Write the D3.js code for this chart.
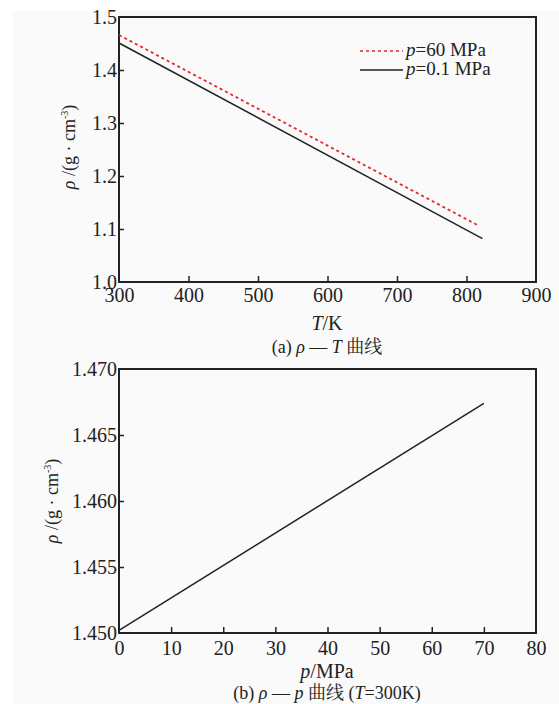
<!DOCTYPE html>
<html>
<head>
<meta charset="utf-8">
<script src="https://cdn.jsdelivr.net/npm/d3@7"></script>
<style>
  body { margin: 0; background: #fff; }
</style>
</head>
<body>
<svg id="chart" width="559" height="704"></svg>
<script>
// (a) rho - T curves
const tempHigh = [300, 815];        // p = 60 MPa
const rhoHigh = [1.466, 1.108];
const tempLow = [300, 823];         // p = 0.1 MPa
const rhoLow = [1.451, 1.082];
const tTicks = [300, 400, 500, 600, 700, 800, 900];
const rhoTTicks = [1.0, 1.1, 1.2, 1.3, 1.4, 1.5];

// (b) rho - p curve at T = 300 K
const pressure = [0, 70];
const rhoP = [1.4502, 1.4674];
const pTicks = [0, 10, 20, 30, 40, 50, 60, 70, 80];
const rhoPTicks = [1.450, 1.455, 1.460, 1.465, 1.470];

const svg = d3.select("#chart");
const ink = "#222";

// light paper background
svg.append("rect").attr("x", 13).attr("y", 11).attr("width", 546).attr("height", 693).attr("fill", "#fafafa");

const left = 119, right = 536;

function panel(top, bottom, xDomain, yDomain, xTicks, yTicks, yFmt, xPad) {
    const x = d3.scaleLinear().domain(xDomain).range([left, right]);
    const y = d3.scaleLinear().domain(yDomain).range([bottom, top]);
    const g = svg.append("g");

    const xAxis = g.append("g").attr("transform", `translate(0,${bottom})`)
        .call(d3.axisBottom(x).tickValues(xTicks).tickSizeInner(-6).tickSizeOuter(0).tickPadding(xPad).tickFormat(d3.format("d")));
    const yAxis = g.append("g").attr("transform", `translate(${left},0)`)
        .call(d3.axisLeft(y).tickValues(yTicks).tickSizeInner(-5).tickSizeOuter(0).tickPadding(2).tickFormat(yFmt));
    [xAxis, yAxis].forEach(a => {
        a.select(".domain").remove();
        a.selectAll("line").attr("stroke", ink).attr("stroke-width", 1.5);
        a.selectAll("text").attr("font-size", 20).attr("fill", ink);
    });
    xAxis.selectAll("text").attr("dy", "0.68em");
    // end ticks on the frame are hidden by the box
    xAxis.selectAll(".tick").filter(d => d === xDomain[0] || d === xDomain[1]).select("line").remove();
    yAxis.selectAll(".tick").filter(d => d === yDomain[0] || d === yDomain[1]).select("line").remove();

    g.append("rect").attr("x", left).attr("y", top).attr("width", right - left).attr("height", bottom - top)
        .attr("fill", "none").attr("stroke", ink).attr("stroke-width", 2);
    return { x, y, g };
}

function yLabel(cx, cy) {
    const t = svg.append("text").attr("transform", `translate(${cx},${cy}) rotate(-90)`)
        .attr("text-anchor", "middle").attr("font-size", 18).attr("fill", ink);
    t.append("tspan").attr("font-style", "italic").text("ρ");
    t.append("tspan").text(" /(g · cm");
    t.append("tspan").attr("font-size", 10).attr("dy", -7).text("-3");
    t.append("tspan").attr("dy", 7).text(")");
}

// ---- panel (a)
const a = panel(17, 282, [300, 900], [1.0, 1.5], tTicks, rhoTTicks, d3.format(".1f"), 6);
const lineA = (xs, ys) => d3.line().x(d => a.x(d[0])).y(d => a.y(d[1]))(xs.map((v, i) => [v, ys[i]]));
a.g.append("path").attr("d", lineA(tempHigh, rhoHigh)).attr("fill", "none")
    .attr("stroke", "#e8242b").attr("stroke-width", 1.8).attr("stroke-dasharray", "3,3");
a.g.append("path").attr("d", lineA(tempLow, rhoLow)).attr("fill", "none")
    .attr("stroke", ink).attr("stroke-width", 1.5);

// legend
const legend = [
    { label: "=60 MPa", color: "#e8242b", dash: "3,3", y: 51 },
    { label: "=0.1 MPa", color: ink, dash: null, y: 70 }
];
legend.forEach(l => {
    svg.append("line").attr("x1", 360).attr("x2", 403).attr("y1", l.y).attr("y2", l.y)
        .attr("stroke", l.color).attr("stroke-width", 1.6).attr("stroke-dasharray", l.dash);
    const t = svg.append("text").attr("x", 406).attr("y", l.y + 5).attr("font-size", 19).attr("fill", ink);
    t.append("tspan").attr("font-style", "italic").text("p");
    t.append("tspan").text(l.label);
});

yLabel(75, 147);
const tTitle = svg.append("text").attr("x", 327).attr("y", 330).attr("text-anchor", "middle").attr("font-size", 20).attr("fill", ink);
tTitle.append("tspan").attr("font-style", "italic").text("T");
tTitle.append("tspan").text("/K");
const capA = svg.append("text").attr("x", 327).attr("y", 353).attr("text-anchor", "middle").attr("font-size", 18).attr("fill", ink);
capA.append("tspan").text("(a)  ");
capA.append("tspan").attr("font-style", "italic").text("ρ");
capA.append("tspan").text(" — ");
capA.append("tspan").attr("font-style", "italic").text("T");
capA.append("tspan").text(" 曲线");

// ---- panel (b)
const b = panel(369, 633, [0, 80], [1.450, 1.470], pTicks, rhoPTicks, d3.format(".3f"), 8);
b.g.append("path")
    .attr("d", d3.line().x(d => b.x(d[0])).y(d => b.y(d[1]))(pressure.map((v, i) => [v, rhoP[i]])))
    .attr("fill", "none").attr("stroke", ink).attr("stroke-width", 1.5);

yLabel(58, 501);
const pTitle = svg.append("text").attr("x", 327).attr("y", 678).attr("text-anchor", "middle").attr("font-size", 20).attr("fill", ink);
pTitle.append("tspan").attr("font-style", "italic").text("p");
pTitle.append("tspan").text("/MPa");
const capB = svg.append("text").attr("x", 327).attr("y", 699).attr("text-anchor", "middle").attr("font-size", 18).attr("fill", ink);
capB.append("tspan").text("(b)  ");
capB.append("tspan").attr("font-style", "italic").text("ρ");
capB.append("tspan").text(" — ");
capB.append("tspan").attr("font-style", "italic").text("p");
capB.append("tspan").text(" 曲线 (");
capB.append("tspan").attr("font-style", "italic").text("T");
capB.append("tspan").text("=300K)");

// serif type throughout, CJK falls back to Noto
svg.selectAll("text").style("font-family", '"Liberation Serif", "Noto Serif CJK SC", "Noto Sans CJK SC", serif');
</script>
</body>
</html>
